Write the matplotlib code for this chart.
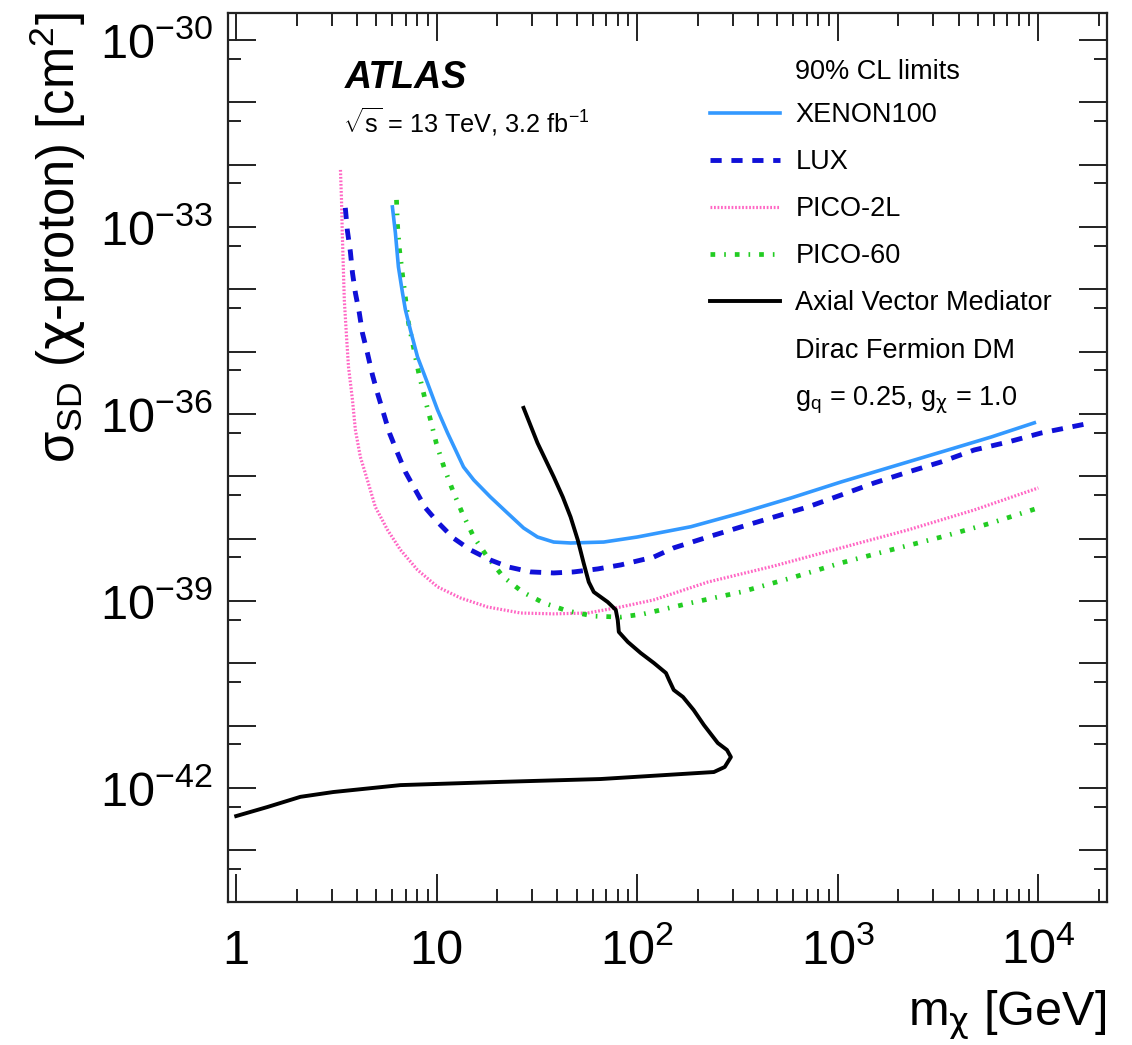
import matplotlib
matplotlib.use("Agg")
import matplotlib.pyplot as plt
from matplotlib.ticker import FixedLocator, FixedFormatter, NullFormatter
from matplotlib.lines import Line2D

plt.rcParams['font.family'] = ['Liberation Sans', 'DejaVu Sans']
plt.rcParams['mathtext.fontset'] = 'custom'
plt.rcParams['mathtext.rm'] = 'Liberation Sans'
plt.rcParams['mathtext.it'] = 'Liberation Sans:italic'
plt.rcParams['mathtext.bf'] = 'Liberation Sans:bold'
plt.rcParams['mathtext.sf'] = 'DejaVu Sans'

# ---- limit curves: dark-matter mass [GeV] vs spin-dependent cross-section [cm^2] ----
xenon100_m = [6.01, 6.22, 6.44, 6.75, 6.98, 7.39, 8.02, 8.99, 10.09, 11.32, 12.41, 13.6, 15.3, 18.5,
              22.5, 27.1, 31.8, 38.3, 46.5, 68, 100, 185, 329, 584, 1038, 1845, 3280, 5830, 9550]
xenon100_s = [2.09e-33, 8.0e-34, 2.28e-34, 8.7e-35, 4.66e-35, 2.22e-35, 8.2e-36, 3.14e-36, 1.16e-36,
              4.95e-37, 2.64e-37, 1.41e-37, 8.7e-38, 4.66e-38, 2.58e-38, 1.48e-38, 1.06e-38, 8.8e-39,
              8.5e-39, 8.8e-39, 1.06e-38, 1.55e-38, 2.58e-38, 4.48e-38, 8.1e-38, 1.41e-37, 2.45e-37,
              4.27e-37, 7.2e-37]

lux_m = [3.50, 3.58, 3.71, 3.80, 3.93, 4.11, 4.26, 4.51, 4.78, 5.06, 5.42, 5.81, 6.37, 6.98, 7.83,
         8.79, 10.2, 12.1, 14.7, 18.5, 22.8, 29.4, 38.3, 48.2, 63.5, 82.7, 121, 152, 225, 329, 481,
         710, 1038, 1517, 2243, 3280, 4790, 7080, 10350, 18400]
lux_s = [2.02e-33, 8.95e-34, 3.97e-34, 1.83e-34, 8.7e-35, 4.17e-35, 1.99e-35, 9.5e-36, 4.22e-36,
         2.17e-36, 1.04e-36, 4.95e-37, 2.37e-37, 1.17e-37, 6.0e-38, 3.1e-38, 1.78e-38, 1.02e-38,
         6.6e-39, 4.54e-39, 3.5e-39, 2.92e-39, 2.81e-39, 2.92e-39, 3.26e-39, 3.78e-39, 5.07e-39,
         7.1e-39, 1.06e-38, 1.54e-38, 2.22e-38, 3.22e-38, 5.0e-38, 7.8e-38, 1.17e-37, 1.70e-37,
         2.64e-37, 3.55e-37, 4.95e-37, 7.2e-37]

pico2l_m = [3.31, 3.35, 3.38, 3.42, 3.46, 3.54, 3.63, 3.80, 3.93, 4.16, 4.51, 4.94, 5.68, 6.59, 8.02,
            10.1, 13.1, 17.9, 26.2, 38.3, 56.6, 82.7, 121, 225, 481, 1038, 2243, 4790, 10000]
pico2l_s = [8.2e-33, 2.71e-33, 8.0e-34, 2.28e-34, 6.7e-35, 1.99e-35, 5.7e-36, 1.67e-36, 5.5e-37,
            2.04e-37, 8.7e-38, 3.22e-38, 1.38e-38, 6.6e-39, 3.14e-39, 1.68e-39, 1.12e-39, 8.0e-40,
            6.4e-40, 6.2e-40, 6.4e-40, 8.0e-40, 1.04e-39, 2.01e-39, 3.64e-39, 7.1e-39, 1.38e-38,
            2.88e-38, 6.5e-38]

pico60_m = [6.30, 6.37, 6.52, 6.75, 6.98, 7.23, 7.65, 8.11, 8.69, 9.31, 9.97, 10.9, 12.1, 13.4, 15.3,
            17.9, 21.5, 26.8, 34.1, 45.0, 60.7, 82.7, 108, 185, 329, 584, 1038, 1845, 3280, 5830, 10000]
pico60_s = [2.71e-33, 1.08e-33, 4.28e-34, 1.70e-34, 7.3e-35, 2.88e-35, 1.19e-35, 4.72e-36, 1.87e-36,
            8.0e-37, 3.30e-37, 1.36e-37, 5.6e-38, 2.58e-38, 1.06e-38, 5.07e-39, 2.42e-39, 1.39e-39,
            9.3e-40, 6.9e-40, 5.7e-40, 5.5e-40, 6.2e-40, 9.3e-40, 1.39e-39, 2.33e-39, 4.07e-39,
            6.6e-39, 1.06e-38, 1.78e-38, 3.1e-38]

axial_m = [1.0, 1.43, 2.09, 3.05, 6.59, 20.8, 65.7, 241, 273, 293, 280, 252, 215, 191, 169, 152, 144,
           139, 121, 104, 89.7, 80.9, 79.9, 78.1, 71.2, 60.7, 57.3, 54.0, 50.5, 46.5, 42.5, 38.3,
           31.8, 27.1]
axial_s = [3.54e-43, 4.94e-43, 7.2e-43, 8.6e-43, 1.11e-42, 1.25e-42, 1.39e-42, 1.80e-42, 2.17e-42,
           3.13e-42, 4.07e-42, 5.26e-42, 1.02e-41, 1.78e-41, 2.88e-41, 3.73e-41, 5.4e-41, 6.98e-41,
           1.01e-40, 1.46e-40, 2.20e-40, 3.18e-40, 4.95e-40, 7.2e-40, 9.6e-40, 1.39e-39, 2.01e-39,
           4.07e-39, 9.5e-39, 2.22e-38, 4.66e-38, 9.8e-38, 3.42e-37, 1.25e-36]

# ---- axis ticks and labels ----
x_major = [1, 10, 100, 1000, 10000]
x_major_labels = ['1', '10', r'$\mathregular{10^{2}}$', r'$\mathregular{10^{3}}$', r'$\mathregular{10^{4}}$']
y_exponents = list(range(-44, -29))
y_labelled = [-30, -33, -36, -39, -42]

legend_header = '90% CL limits'
legend_labels = ['XENON100', 'LUX', 'PICO-2L', 'PICO-60',
                 'Axial Vector Mediator', 'Dirac Fermion DM',
                 r'g$_{\mathregular{q}}$ = 0.25, g$_{\mathsf{\chi}}$ = 1.0']

fig = plt.figure(figsize=(11.32, 10.45), dpi=100)
ax = fig.add_axes([228 / 1132, 143 / 1045, 879 / 1132, 889 / 1045])
ax.set_xscale('log')
ax.set_yscale('log')

l_pico2l, = ax.plot(pico2l_m, pico2l_s, color='#ff66c4', lw=2.3, ls=(0, (0.55, 0.55)))
l_pico60, = ax.plot(pico60_m, pico60_s, color='#22cc22', lw=3.4, ls=(0, (1.0, 1.9, 0.35, 1.9)))
l_lux, = ax.plot(lux_m, lux_s, color='#1010d8', lw=3.5, ls=(0, (2.3, 2.0)))
l_xenon, = ax.plot(xenon100_m, xenon100_s, color='#3399ff', lw=2.6, ls='-')
l_axial, = ax.plot(axial_m, axial_s, color='black', lw=2.8, ls='-')

ax.set_xlim(0.91, 2.2e4)
ax.set_ylim(1.48e-44, 2.7e-30)

# ticks: decades on both axes, labels on x every decade and on y every third decade
ax.xaxis.set_major_locator(FixedLocator(x_major))
ax.xaxis.set_major_formatter(FixedFormatter(x_major_labels))
ax.xaxis.set_minor_locator(FixedLocator([k * 10.0 ** n for n in range(0, 5) for k in range(2, 10)]))
ax.xaxis.set_minor_formatter(NullFormatter())

y_major = [10.0 ** e for e in y_exponents]
y_major_labels = [(r'$\mathregular{10^{%d}}$' % e) if e in y_labelled else '' for e in y_exponents]
ax.yaxis.set_major_locator(FixedLocator(y_major))
ax.yaxis.set_major_formatter(FixedFormatter(y_major_labels))
ax.yaxis.set_minor_locator(FixedLocator([5 * 10.0 ** e for e in range(-45, -29)]))
ax.yaxis.set_minor_formatter(NullFormatter())

ax.tick_params(which='both', direction='in', top=True, right=True, width=1.4, color='#222222')
ax.tick_params(which='major', length=20, labelsize=35)
ax.tick_params(which='minor', length=9.5)
ax.tick_params(axis='x', which='major', pad=45)
ax.tick_params(axis='y', which='major', pad=11)
for t in ax.xaxis.get_major_ticks():
    t.label1.set_verticalalignment('baseline')

for sp in ax.spines.values():
    sp.set_linewidth(1.6)
    sp.set_color('#222222')

# axis titles
fig.text(58 / 1132, 1 - 12 / 1045,
         r'$\mathregular{\sigma_{SD}}$ ($\mathsf{\chi}$-proton) [cm$^{\mathregular{2}}$]',
         rotation=90, ha='center', va='top', fontsize=36.5)
fig.text(1106 / 1132, 1 - 1025 / 1045, r'm$_{\mathsf{\chi}}$ [GeV]',
         ha='right', va='baseline', fontsize=35)

# experiment labels
fig.text(345 / 1132, 1 - 88 / 1045, 'ATLAS', fontsize=27, fontweight='bold', fontstyle='italic',
         ha='left', va='baseline')
fig.text(343 / 1132, 1 - 132 / 1045, r'$\sqrt{\mathregular{s}}$ = 13 TeV, 3.2 fb$^{\mathregular{-1}}$',
         fontsize=18.2, ha='left', va='baseline')

# legend block
fig.text(795 / 1132, 1 - 72 / 1045, legend_header, fontsize=19.5, ha='left', va='center')
blank = Line2D([], [], color='none')
handles = [l_xenon, l_lux, l_pico2l, l_pico60, l_axial, blank, blank]
leg = ax.legend(handles, legend_labels, loc='upper left',
                bbox_to_anchor=(710 / 1132, 1 - 102 / 1045), bbox_transform=fig.transFigure,
                frameon=False, fontsize=19.5, handlelength=2.6, handletextpad=0.55,
                labelspacing=0.78, borderpad=0, borderaxespad=0)

fig.savefig('out.png', dpi=100)
